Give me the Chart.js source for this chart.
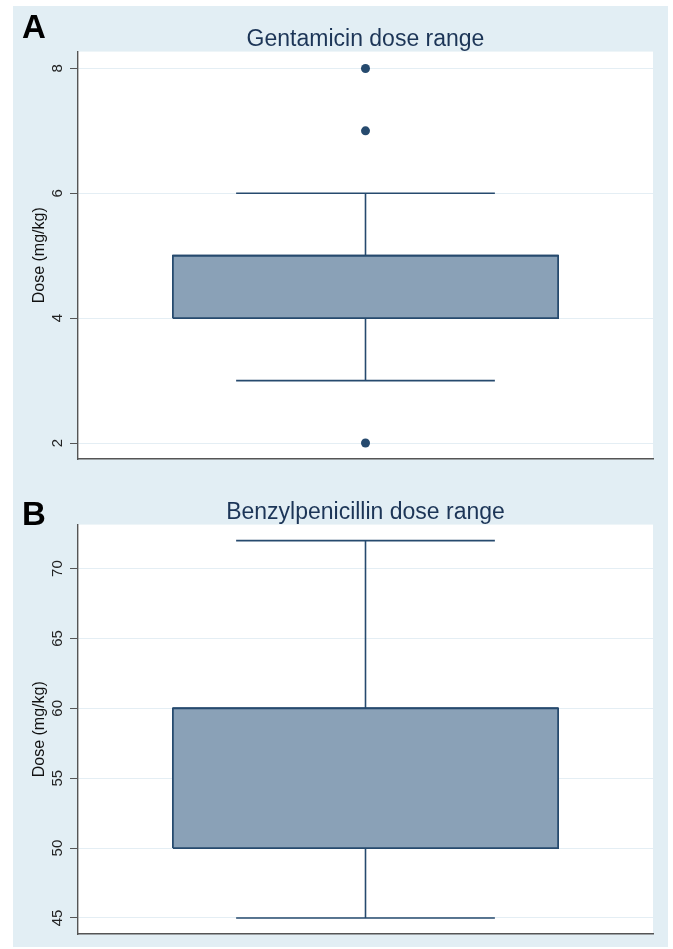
<!DOCTYPE html>
<html>
<head>
<meta charset="utf-8">
<script src="https://cdn.jsdelivr.net/npm/chart.js@4.4.0/dist/chart.umd.min.js"></script>
<style>
  html, body { margin: 0; padding: 0; background: #ffffff; }
  body { width: 673px; height: 949px; position: relative; overflow: hidden; font-family: "Liberation Sans", Arial, sans-serif; }
  #panel { position: absolute; left: 13px; top: 6px; width: 655px; height: 941px; background: #e2eef4; }
  .wrap { position: absolute; left: 13px; width: 655px; }
  #wrapA { top: 6px; height: 470px; }
  #wrapB { top: 476px; height: 471px; }
  .letter { position: absolute; font-weight: bold; font-size: 33px; color: #000; line-height: 1; }
  #letterA { left: 22px; top: 10px; }
  #letterB { left: 22px; top: 497px; }
</style>
</head>
<body>
<div id="panel"></div>
<div class="wrap" id="wrapA"><canvas id="chartA" width="655" height="470"></canvas></div>
<div class="wrap" id="wrapB"><canvas id="chartB" width="655" height="471"></canvas></div>
<div class="letter" id="letterA">A</div>
<div class="letter" id="letterB">B</div>
<script>
// ---- Data ----
// [lower whisker, Q1, median, Q3, upper whisker]
const gentamicinStats = [3, 4, 5, 5, 6];
const gentamicinOutliers = [2, 7, 8];
const gentamicinTicks = [2, 4, 6, 8];
const gentamicinTitle = "Gentamicin dose range";

const benzylStats = [45, 50, 60, 60, 72];
const benzylOutliers = [];
const benzylTicks = [45, 50, 55, 60, 65, 70];
const benzylTitle = "Benzylpenicillin dose range";

const yAxisLabel = "Dose (mg/kg)";

// ---- Styles ----
const NAVY = '#264a6e';
const BOX_FILL = '#8aa1b7';
const BOX_HALF = 0.67;
const CAP_HALF = 0.45;
const FONT = '"Liberation Sans", Arial, sans-serif';

const whiteArea = {
  id: 'whiteArea',
  afterLayout(chart) {
    // centre the title over the plot region
    if (chart.titleBlock) {
      chart.titleBlock.left = chart.chartArea.left;
      chart.titleBlock.right = chart.chartArea.right;
    }
  },
  beforeDraw(chart) {
    const a = chart.chartArea, ctx = chart.ctx;
    ctx.save();
    ctx.fillStyle = '#ffffff';
    ctx.fillRect(a.left, a.top, a.right - a.left, a.bottom - a.top);
    ctx.restore();
  }
};

function makeChart(id, stats, outliers, ticks, title, yMin, yMax, layoutPad, titlePad, tickPad) {
  const [lo, q1, med, q3, hi] = stats;
  const lineDs = (pts, extra) => Object.assign({
    data: pts, borderColor: NAVY, borderWidth: 1.6, pointRadius: 0,
    pointHoverRadius: 0, tension: 0, fill: false, showLine: true
  }, extra || {});
  const datasets = [
    lineDs([{x: -BOX_HALF, y: q1}, {x: BOX_HALF, y: q1}, {x: BOX_HALF, y: q3},
            {x: -BOX_HALF, y: q3}, {x: -BOX_HALF, y: q1}],
           {fill: 'shape', backgroundColor: BOX_FILL, borderWidth: 1.8}),
    lineDs([{x: -BOX_HALF, y: med}, {x: BOX_HALF, y: med}], {borderWidth: 2}),
    lineDs([{x: 0, y: q3}, {x: 0, y: hi}]),
    lineDs([{x: 0, y: q1}, {x: 0, y: lo}]),
    lineDs([{x: -CAP_HALF, y: hi}, {x: CAP_HALF, y: hi}]),
    lineDs([{x: -CAP_HALF, y: lo}, {x: CAP_HALF, y: lo}]),
    {
      data: outliers.map(v => ({x: 0, y: v})), showLine: false,
      pointRadius: 4.5, pointBackgroundColor: NAVY, pointBorderColor: NAVY,
      pointBorderWidth: 0, pointHoverRadius: 4.5
    }
  ];
  return new Chart(document.getElementById(id), {
    type: 'line',
    data: { datasets },
    plugins: [whiteArea],
    options: {
      responsive: false,
      animation: false,
      events: [],
      layout: { padding: layoutPad },
      plugins: {
        legend: { display: false },
        tooltip: { enabled: false },
        title: {
          display: true, text: title, color: '#1c3557',
          font: { family: FONT, size: 23, weight: 'normal', lineHeight: 1.03 },
          padding: titlePad
        }
      },
      scales: {
        x: {
          type: 'linear', min: -1, max: 1,
          grid: { display: false },
          ticks: { display: false },
          border: { display: true, color: '#555555', width: 1.4 },
          afterFit(s) { s.height = 0; }
        },
        y: {
          type: 'linear', min: yMin, max: yMax,
          afterBuildTicks(s) { s.ticks = ticks.map(v => ({value: v})); },
          ticks: {
            minRotation: 90, maxRotation: 90, crossAlign: 'center',
            padding: tickPad, color: '#222222',
            font: { family: FONT, size: 15 }
          },
          grid: { color: '#e4eef4', lineWidth: 1, tickLength: 8, tickColor: '#555555', tickWidth: 1 },
          border: { display: true, color: '#555555', width: 1.4 },
          title: {
            display: true, text: yAxisLabel, color: '#111111',
            font: { family: FONT, size: 16 }, padding: { top: 17, bottom: 0 }
          },
          afterFit(s) { s.width = 65; }
        }
      }
    }
  });
}

makeChart('chartA', gentamicinStats, gentamicinOutliers, gentamicinTicks, gentamicinTitle,
  1.744, 8.27, { left: 0, right: 15, top: 0, bottom: 17 }, { top: 21.9, bottom: 0 }, 8);
makeChart('chartB', benzylStats, benzylOutliers, benzylTicks, benzylTitle,
  43.85, 73.15, { left: 0, right: 15, top: 0, bottom: 13 }, { top: 24.9, bottom: 0 }, 4);
</script>
</body>
</html>
